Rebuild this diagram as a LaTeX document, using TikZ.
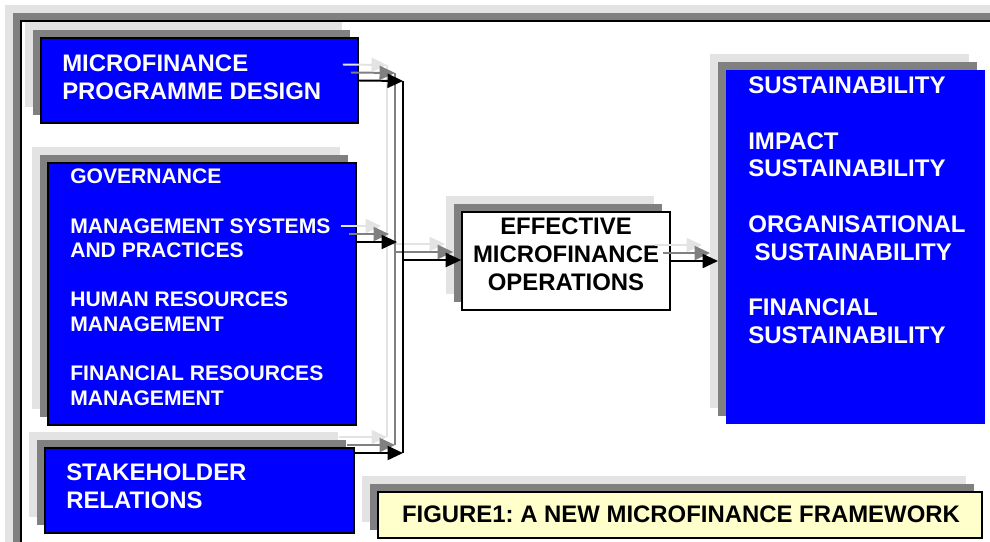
\documentclass[tikz,border=0pt]{standalone}
\usepackage{fontspec}
\setmainfont{Liberation Sans}
\frenchspacing
\usetikzlibrary{shadows,fit,arrows.meta}

\definecolor{mfblue}{RGB}{0,0,255}
\definecolor{shadedark}{RGB}{128,128,128}
\definecolor{shadelight}{RGB}{227,227,227}
\definecolor{notepaper}{RGB}{255,255,204}

\newcommand\mfbig{\fontsize{17}{19.9}\selectfont\bfseries}
\newcommand\mfsmall{\fontsize{15}{17.5}\selectfont\bfseries}
\newcommand\mfgoal{\fontsize{17.1}{19.7}\selectfont\bfseries}
\newcommand\mfcap{\fontsize{17}{18}\selectfont\bfseries}

\tikzstyle{shadowed}=[general shadow={fill=shadelight,shadow xshift=-0.4cm,shadow yshift=0.4cm},
  general shadow={fill=shadedark,shadow xshift=-0.2cm,shadow yshift=0.2cm}]
\tikzstyle{panel}=[shadowed,rectangle,draw=black,line width=1.2pt,inner sep=0pt]
\tikzstyle{bluepanel}=[panel,fill=mfblue]
\tikzstyle{frame}=[shadowed,rectangle,fill=white,draw=black,line width=1.4pt,inner sep=0pt]
\tikzstyle{whitetext}=[text=white,inner sep=0pt,anchor=north west,align=left]
\tikzstyle{wire}=[line width=1.4pt]
\tikzstyle{link}=[wire,-{Triangle[length=11pt,width=10pt]}]

\begin{document}
\begin{tikzpicture}[x=0.025cm,y=-0.025cm]
	\useasboundingbox (0,0) rectangle (990,541);
	\clip (0,0) rectangle (990,541);
	% page frame, runs off the right and bottom
	\node [frame, fit={(21,21) (1100,650)}] (border) {};

	% boxes
	\node [bluepanel, fit={(41,38) (358,123)}] (design) {};
	\node [bluepanel, fit={(48,163) (356,425)}] (manage) {};
	\node [bluepanel, fit={(45,448) (354,533)}] (stake) {};
	\node [panel, fill=white, fit={(462,212) (670,310)}] (ops) {};
	\node [bluepanel, draw=none, fit={(726,70) (985,424)}] (goals) {};
	\node [panel, fill=notepaper, fit={(378,492) (982,538)}] (caption) {};

	% box texts
	\node [whitetext, font=\mfbig] (designtxt) at (62,54.9) {MICROFINANCE\\PROGRAMME DESIGN};
	\node [whitetext, font=\mfsmall] (managetxt) at (70,168.9)
		{GOVERNANCE\\[17.5pt]MANAGEMENT SYSTEMS\\AND PRACTICES\\[17.5pt]HUMAN RESOURCES\\MANAGEMENT\\[17.5pt]FINANCIAL RESOURCES\\MANAGEMENT};
	\node [whitetext, font=\mfbig] (staketxt) at (66,463.9) {STAKEHOLDER\\RELATIONS};
	\node [inner sep=0pt, anchor=north, align=center, font=\mfbig] (opstxt) at (566,217.9)
		{EFFECTIVE\\MICROFINANCE\\OPERATIONS};
	\node [whitetext, font=\mfgoal] (goalstxt) at (748,76.8)
		{SUSTAINABILITY\\[19.7pt]IMPACT\\SUSTAINABILITY\\[19.7pt]ORGANISATIONAL\\\hspace{4.5pt}SUSTAINABILITY\\[19.7pt]FINANCIAL\\SUSTAINABILITY};
	\node [inner sep=0pt, font=\mfcap] (captiontxt) at (681,514)
		{FIGURE1: A NEW MICROFINANCE FRAMEWORK};

	% joints of the collecting bus
	\coordinate (jtop) at (403,81);
	\coordinate (jsys) at (397,242);
	\coordinate (jmid) at (403,260);
	\coordinate (jbot) at (403,453);
	\coordinate (jout) at (718,261);

	% connectors, twice in grey behind the black one
	\foreach \off/\tone in {-16/shadelight,-8/shadedark,0/black}{
		\begin{scope}[transform canvas={shift={(\off,\off)}}, color=\tone]
			\draw [link] (design.east) -- (jtop);
			\draw [wire] (jtop) -- (jbot);
			\draw [link] (manage.east |- jsys) -- (jsys);
			\draw [link] (stake.east |- jbot) -- (jbot);
			\draw [link] (jmid) -- (jmid -| ops.west);
			\draw [link] (ops.east) -- (jout);
		\end{scope}
	}
\end{tikzpicture}
\end{document}
